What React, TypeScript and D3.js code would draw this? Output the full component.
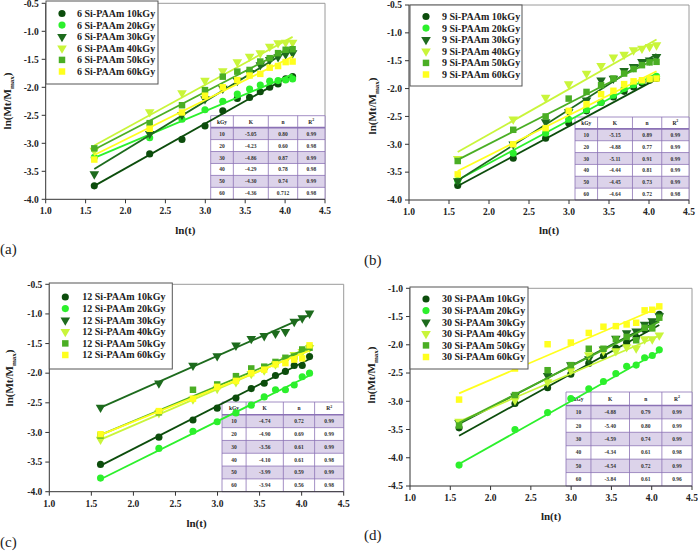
import React from 'react';
import * as d3 from 'd3';

// ---------- shared data ----------
const lnT = [1.609, 2.303, 2.708, 2.996, 3.219, 3.401, 3.555, 3.689, 3.807, 3.912, 4.007, 4.094];
const doseLabels = ['10kGy', '20kGy', '30kGy', '40kGy', '50kGy', '60kGy'];
const tableDoses = ['10', '20', '30', '40', '50', '60'];
const tableHeader = ['kGy', 'K', 'n', 'R'];
const xTicks = [1.0, 1.5, 2.0, 2.5, 3.0, 3.5, 4.0, 4.5];
const seriesColors = ['#0c4d0c', '#2cf02c', '#1d6b1d', '#c9f53a', '#4aae24', '#ffff1e'];
const seriesShapes = ['circle', 'circle', 'triangle', 'triangle', 'square', 'square'];

// ---------- panel (a): 6 Si-PAAm ----------
const a10 = [-3.76, -3.19, -2.93, -2.69, -2.42, -2.20, -2.18, -2.08, -2.00, -1.94, -1.85, -1.81];
const a20 = [-3.25, -2.90, -2.57, -2.40, -2.25, -2.12, -2.03, -1.96, -1.89, -1.88, -1.87, -1.85];
const a30 = [-3.55, -2.83, -2.49, -2.21, -2.02, -1.88, -1.74, -1.60, -1.51, -1.46, -1.41, -1.39];
const a40 = [-3.13, -2.44, -2.10, -1.88, -1.71, -1.55, -1.45, -1.39, -1.27, -1.21, -1.20, -1.20];
const a50 = [-3.09, -2.64, -2.32, -2.05, -1.81, -1.72, -1.69, -1.54, -1.48, -1.39, -1.33, -1.32];
const a60 = [-3.29, -2.74, -2.45, -2.15, -2.00, -1.87, -1.79, -1.76, -1.65, -1.62, -1.55, -1.54];
const aFitStart = [-3.76, -3.26, -3.46, -3.04, -3.11, -3.21];
const aFitEnd = [-1.77, -1.77, -1.30, -1.10, -1.27, -1.45];
const aK = ['-5.05', '-4.23', '-4.86', '-4.29', '-4.30', '-4.36'];
const aN = ['0.80', '0.60', '0.87', '0.78', '0.74', '0.712'];
const aR2 = ['0.99', '0.98', '0.99', '0.98', '0.99', '0.98'];

// ---------- panel (b): 9 Si-PAAm ----------
const b10 = [-3.74, -3.25, -2.89, -2.62, -2.40, -2.25, -2.15, -2.05, -1.97, -1.90, -1.85, -1.82];
const b20 = [-3.65, -3.16, -2.80, -2.55, -2.38, -2.25, -2.12, -2.00, -1.93, -1.87, -1.83, -1.78];
const b30 = [-3.66, -3.00, -2.60, -2.42, -2.21, -1.85, -1.82, -1.68, -1.61, -1.52, -1.49, -1.43];
const b40 = [-3.26, -2.55, -2.16, -1.92, -1.73, -1.59, -1.44, -1.39, -1.31, -1.28, -1.25, -1.22];
const b50 = [-3.30, -2.74, -2.50, -2.18, -2.06, -1.94, -1.82, -1.73, -1.65, -1.58, -1.53, -1.52];
const b60 = [-3.54, -3.00, -2.71, -2.40, -2.28, -2.10, -2.04, -1.92, -1.87, -1.85, -1.83, -1.82];
const bFitStart = [-3.75, -3.64, -3.65, -3.14, -3.28, -3.48];
const bFitEnd = [-1.83, -1.73, -1.38, -1.12, -1.46, -1.69];
const bK = ['-5.15', '-4.88', '-5.11', '-4.44', '-4.45', '-4.64'];
const bN = ['0.89', '0.77', '0.91', '0.81', '0.73', '0.72'];
const bR2 = ['0.99', '0.99', '0.99', '0.99', '0.99', '0.98'];

// ---------- panel (c): 12 Si-PAAm ----------
const c10 = [-3.54, -3.08, -2.79, -2.59, -2.42, -2.26, -2.17, -2.04, -1.97, -1.87, -1.87, -1.72];
const c20 = [-3.77, -3.27, -2.98, -2.82, -2.67, -2.54, -2.40, -2.28, -2.28, -2.20, -2.06, -2.00];
const c30 = [-2.58, -2.17, -1.87, -1.71, -1.53, -1.42, -1.37, -1.33, -1.30, -1.13, -1.07, -0.99];
const c40 = [-3.12, -2.67, -2.44, -2.26, -2.15, -2.01, -1.95, -1.85, -1.78, -1.69, -1.64, -1.57];
const c50 = [-3.05, -2.66, -2.28, -2.19, -2.05, -1.92, -1.89, -1.81, -1.74, -1.72, -1.60, -1.57];
const c60 = [-3.03, -2.64, -2.43, -2.23, -2.13, -2.00, -1.94, -1.85, -1.83, -1.77, -1.75, -1.53];
const cFitStart = [-3.56, -3.79, -2.58, -3.12, -3.04, -3.04];
const cFitEnd = [-1.76, -2.04, -1.02, -1.60, -1.57, -1.62];
const cK = ['-4.74', '-4.90', '-3.56', '-4.10', '-3.99', '-3.94'];
const cN = ['0.72', '0.69', '0.61', '0.61', '0.59', '0.56'];
const cR2 = ['0.99', '0.99', '0.99', '0.98', '0.99', '0.98'];

// ---------- panel (d): 30 Si-PAAm ----------
const d10 = [-3.47, -3.04, -2.76, -2.52, -2.33, -2.20, -2.06, -1.96, -1.87, -1.73, -1.61, -1.46];
const d20 = [-4.13, -3.50, -3.20, -2.95, -2.78, -2.65, -2.51, -2.38, -2.36, -2.23, -2.19, -2.09];
const d30 = [-3.38, -2.91, -2.55, -2.36, -2.25, -2.08, -1.89, -1.79, -1.76, -1.64, -1.58, -1.49];
const d40 = [-3.36, -2.98, -2.66, -2.45, -2.18, -2.11, -2.11, -2.04, -2.06, -1.90, -1.90, -1.83];
const d50 = [-3.43, -2.89, -2.45, -2.36, -2.07, -2.07, -1.90, -1.86, -1.92, -1.70, -1.71, -1.52];
const d60 = [-2.97, -2.42, -1.99, -1.96, -1.79, -1.68, -1.67, -1.64, -1.61, -1.39, -1.38, -1.32];
const dFitStart = [-3.61, -4.11, -3.40, -3.36, -3.38, -2.86];
const dFitEnd = [-1.65, -2.12, -1.56, -1.84, -1.59, -1.34];
const dK = ['-4.88', '-5.40', '-4.59', '-4.34', '-4.54', '-3.84'];
const dN = ['0.79', '0.80', '0.74', '0.61', '0.72', '0.61'];
const dR2 = ['0.99', '0.99', '0.99', '0.98', '0.99', '0.96'];

const FONT = '"Liberation Serif", "Times New Roman", serif';

type Box = { x: number; y: number; w: number; h: number };
type PanelProps = {
  prefix: string;
  series: number[][];
  fitStart: number[];
  fitEnd: number[];
  K: string[];
  N: string[];
  R2: string[];
  plot: { left: number; right: number; top: number; bottom: number };
  yDomain: [number, number];
  legend: Box & { mdx: number; tdx: number };
  table: Box;
  xTitleY: number;
  yTitle: { x: number; y: number };
  label: { text: string; x: number; y: number };
};

function markerPath(shape: string): string {
  if (shape === 'circle') return d3.symbol(d3.symbolCircle, 40)() as string;
  if (shape === 'square') return d3.symbol(d3.symbolSquare, 42)() as string;
  return d3.symbol(d3.symbolTriangle, 40)() as string;
}

function Marker({ shape, color, x, y }: { shape: string; color: string; x: number; y: number }) {
  const rot = shape === 'triangle' ? ' rotate(180)' : '';
  return <path d={markerPath(shape)} transform={`translate(${x},${y})${rot}`} fill={color} />;
}

function Panel(p: PanelProps) {
  const { plot } = p;
  const xs = d3.scaleLinear().domain([1.0, 4.5]).range([plot.left, plot.right]);
  const ys = d3.scaleLinear().domain(p.yDomain).range([plot.bottom, plot.top]);
  const yTicks = d3.range(p.yDomain[0], p.yDomain[1] + 0.001, 0.5);
  const line = d3
    .line<[number, number]>()
    .x((d) => xs(d[0]))
    .y((d) => ys(d[1]));

  const colFr = [0.198, 0.306, 0.257, 0.239];
  const colX: number[] = [p.table.x];
  colFr.forEach((f, i) => colX.push(colX[i] + f * p.table.w));
  const rowH = p.table.h / 7;
  const cellsText = (r: number) => [tableDoses[r], p.K[r], p.N[r], p.R2[r]];
  const tableStroke = '#8b72b5';

  return (
    <g fontFamily={FONT}>
      {/* frame */}
      <line x1={plot.left} x2={plot.right} y1={plot.top} y2={plot.top} stroke="#9a9a9a" strokeWidth={1} />
      <line x1={plot.right} x2={plot.right} y1={plot.top} y2={plot.bottom} stroke="#9a9a9a" strokeWidth={1} />

      {/* table */}
      <g>
        {d3.range(7).map((r) => (
          <rect
            key={'tr' + r}
            x={p.table.x}
            y={p.table.y + r * rowH}
            width={p.table.w}
            height={rowH}
            fill={r % 2 === 1 ? '#dcd3ea' : '#ffffff'}
            stroke="none"
          />
        ))}
        {d3.range(8).map((r) => (
          <line
            key={'hl' + r}
            x1={p.table.x}
            x2={p.table.x + p.table.w}
            y1={p.table.y + r * rowH}
            y2={p.table.y + r * rowH}
            stroke={tableStroke}
            strokeWidth={r === 1 ? 1.6 : 0.8}
          />
        ))}
        {colX.map((cx, i) => (
          <line
            key={'vl' + i}
            x1={cx}
            x2={cx}
            y1={p.table.y}
            y2={p.table.y + p.table.h}
            stroke={tableStroke}
            strokeWidth={0.8}
          />
        ))}
        {tableHeader.map((t, c) => (
          <text
            key={'th' + c}
            x={(colX[c] + colX[c + 1]) / 2}
            y={p.table.y + rowH / 2 + 2}
            fontSize={5.5}
            fontWeight="bold"
            textAnchor="middle"
            fill="#222"
          >
            {t}
            {c === 3 ? (
              <tspan fontSize={4} dy={-2.5}>
                2
              </tspan>
            ) : null}
          </text>
        ))}
        {d3.range(6).map((r) =>
          cellsText(r).map((t, c) => (
            <text
              key={'td' + r + '-' + c}
              x={(colX[c] + colX[c + 1]) / 2}
              y={p.table.y + (r + 1) * rowH + rowH / 2 + 2}
              fontSize={5.5}
              fontWeight="bold"
              textAnchor="middle"
              fill="#333"
            >
              {t}
            </text>
          ))
        )}
      </g>

      {/* series: fitted line then markers */}
      {p.series.map((vals, si) => (
        <g key={'s' + si}>
          <path
            d={line([
              [lnT[0], p.fitStart[si]],
              [lnT[lnT.length - 1], p.fitEnd[si]],
            ]) as string}
            stroke={seriesColors[si]}
            strokeWidth={1.8}
            fill="none"
          />
          {vals.map((v, i) => (
            <Marker key={i} shape={seriesShapes[si]} color={seriesColors[si]} x={xs(lnT[i])} y={ys(v)} />
          ))}
        </g>
      ))}

      {/* axes */}
      <line x1={plot.left} x2={plot.right} y1={plot.bottom} y2={plot.bottom} stroke="#333" strokeWidth={1} />
      <line x1={plot.left} x2={plot.left} y1={plot.top} y2={plot.bottom} stroke="#333" strokeWidth={1} />
      {xTicks.map((t) => (
        <g key={'xt' + t}>
          <line x1={xs(t)} x2={xs(t)} y1={plot.bottom} y2={plot.bottom + 4} stroke="#333" />
          <text
            x={xs(t)}
            y={plot.bottom + 15}
            fontSize={9.5}
            fontWeight="bold"
            textAnchor="middle"
            fill="#222"
          >
            {t.toFixed(1)}
          </text>
        </g>
      ))}
      {yTicks.map((t) => (
        <g key={'yt' + t}>
          <line x1={plot.left - 4} x2={plot.left} y1={ys(t)} y2={ys(t)} stroke="#333" />
          <text
            x={plot.left - 7}
            y={ys(t) + 3.3}
            fontSize={9.5}
            fontWeight="bold"
            textAnchor="end"
            fill="#222"
          >
            {t.toFixed(1)}
          </text>
        </g>
      ))}

      {/* legend */}
      <rect
        x={p.legend.x}
        y={p.legend.y}
        width={p.legend.w}
        height={p.legend.h}
        fill="#ffffff"
        stroke="#555"
        strokeWidth={1}
      />
      {doseLabels.map((lab, i) => {
        const step = 11.6;
        const cy = p.legend.y + p.legend.h / 2 + (i - 2.5) * step;
        return (
          <g key={'lg' + i}>
            <Marker shape={seriesShapes[i]} color={seriesColors[i]} x={p.legend.x + p.legend.mdx} y={cy} />
            <text
              x={p.legend.x + p.legend.tdx}
              y={cy + 3.4}
              fontSize={10}
              fontWeight="bold"
              fill="#222"
            >
              {`${p.prefix} Si-PAAm ${lab}`}
            </text>
          </g>
        );
      })}

      {/* titles */}
      <text
        x={(plot.left + plot.right) / 2}
        y={p.xTitleY}
        fontSize={11}
        fontWeight="bold"
        textAnchor="middle"
        fill="#222"
      >
        ln(t)
      </text>
      <text
        transform={`translate(${p.yTitle.x},${p.yTitle.y}) rotate(-90)`}
        fontSize={11}
        fontWeight="bold"
        textAnchor="middle"
        fill="#222"
      >
        ln(Mt/M
        <tspan fontSize={7} dy={3}>
          max
        </tspan>
        <tspan dy={-3}>)</tspan>
      </text>
      <text x={p.label.x} y={p.label.y} fontSize={15} fill="#222">
        {p.label.text}
      </text>
    </g>
  );
}

export default function App() {
  return (
    <svg
      width={698}
      height={552}
      style={{ position: 'absolute', left: 0, top: 0, background: '#ffffff' }}
    >
      <rect x={0} y={0} width={698} height={552} fill="#ffffff" />
      <Panel
        prefix="6"
        series={[a10, a20, a30, a40, a50, a60]}
        fitStart={aFitStart}
        fitEnd={aFitEnd}
        K={aK}
        N={aN}
        R2={aR2}
        plot={{ left: 45.7, right: 325, top: 3.3, bottom: 199.3 }}
        yDomain={[-4.0, -0.5]}
        legend={{ x: 46, y: 1, w: 112, h: 83, mdx: 16, tdx: 31 }}
        table={{ x: 210.7, y: 115.7, w: 114.3, h: 83.6 }}
        xTitleY={234}
        yTitle={{ x: 11, y: 101 }}
        label={{ text: '(a)', x: 0, y: 254 }}
      />
      <Panel
        prefix="9"
        series={[b10, b20, b30, b40, b50, b60]}
        fitStart={bFitStart}
        fitEnd={bFitEnd}
        K={bK}
        N={bN}
        R2={bR2}
        plot={{ left: 409, right: 689, top: 5, bottom: 200 }}
        yDomain={[-4.0, -0.5]}
        legend={{ x: 410, y: 5, w: 112, h: 81, mdx: 16, tdx: 32 }}
        table={{ x: 575, y: 117, w: 114, h: 83 }}
        xTitleY={234}
        yTitle={{ x: 376, y: 106 }}
        label={{ text: '(b)', x: 364, y: 265 }}
      />
      <Panel
        prefix="12"
        series={[c10, c20, c30, c40, c50, c60]}
        fitStart={cFitStart}
        fitEnd={cFitEnd}
        K={cK}
        N={cN}
        R2={cR2}
        plot={{ left: 49.3, right: 343.7, top: 284.3, bottom: 491.7 }}
        yDomain={[-4.0, -0.5]}
        legend={{ x: 49.3, y: 283, w: 123, h: 86, mdx: 16, tdx: 33 }}
        table={{ x: 222, y: 402, w: 121.7, h: 89.7 }}
        xTitleY={527}
        yTitle={{ x: 13, y: 378 }}
        label={{ text: '(c)', x: 0, y: 547 }}
      />
      <Panel
        prefix="30"
        series={[d10, d20, d30, d40, d50, d60]}
        fitStart={dFitStart}
        fitEnd={dFitEnd}
        K={dK}
        N={dN}
        R2={dR2}
        plot={{ left: 410, right: 692, top: 288.3, bottom: 486 }}
        yDomain={[-4.5, -1.0]}
        legend={{ x: 410, y: 287, w: 118, h: 82, mdx: 16, tdx: 32 }}
        table={{ x: 566, y: 392, w: 126, h: 94 }}
        xTitleY={520}
        yTitle={{ x: 375, y: 375 }}
        label={{ text: '(d)', x: 364, y: 540 }}
      />
    </svg>
  );
}
